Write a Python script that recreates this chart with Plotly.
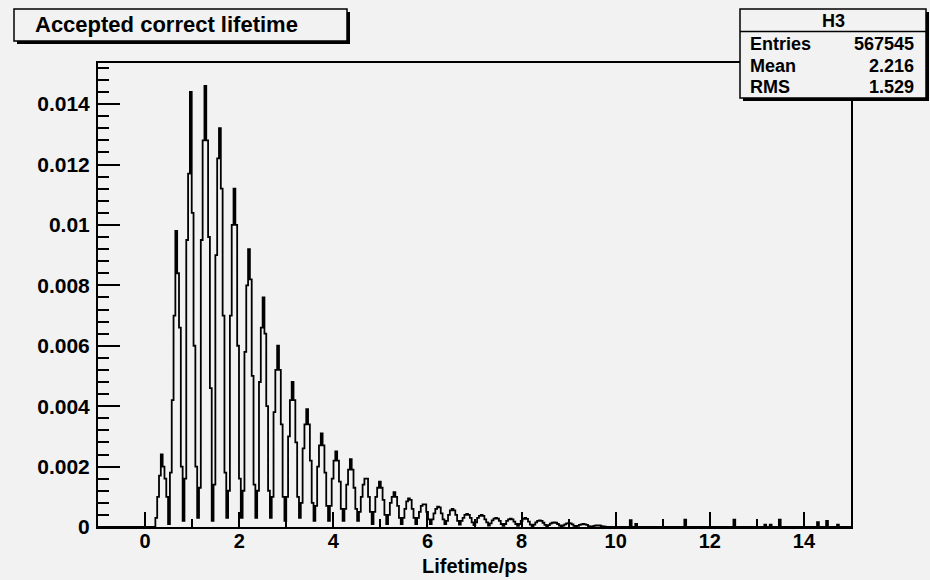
import plotly.graph_objects as go

# ---------------- data ----------------
HIST_NAME = "H3"
TITLE = "Accepted correct lifetime"
X_TITLE = "Lifetime/ps"
STAT_NAMES = ["Entries", "Mean", "RMS"]
STAT_VALUES = ["567545", "2.216", "1.529"]

BIN_WIDTH = 0.309 / 8          # ps
FIRST_EDGE = 0.219             # ps, first non-empty bin edge
X_MIN, X_MAX = -1.0, 15.0
Y_MAX = 0.01536
UNIT = 1e-4                    # bin contents below are in units of 1e-4

# bin contents, one row per "tooth" of the comb (8 bins each), in 1e-4
teeth = [
    [3, 10, 17, 24, 20, 16, 10, 1],
    [18, 42, 70, 98, 84, 66, 20, 2],
    [16, 95, 117, 144, 104, 60, 20, 3],
    [13, 95, 128, 146, 128, 96, 46, 2],
    [14, 90, 122, 132, 112, 70, 18, 3],
    [12, 70, 100, 112, 100, 60, 16, 3],
    [12, 58, 80, 92, 82, 50, 14, 3],
    [12, 48, 66, 76, 64, 40, 12, 3],
    [10, 38, 52, 60, 52, 34, 10, 2],
    [10, 30, 42, 48, 42, 28, 10, 3],
    [8, 26, 34, 39, 34, 22, 8, 2],
    [7, 20, 27, 31, 27, 18, 7, 2],
    [7, 16, 22, 25, 22, 15, 6, 2],
    [6, 14, 19, 22.5, 19, 13, 6, 2],
    [5, 10, 14, 16, 16, 10, 5, 1],
    [5, 10, 13, 15, 13, 9, 4, 1],
    [4, 8, 10, 11.5, 10, 7, 3, 1],
    [3, 6, 8.5, 9.5, 9, 6, 3, 1],
    [3, 5, 7, 7.5, 7.5, 5, 2.5, 1],
    [2.5, 4.5, 6, 6.7, 6.5, 4.5, 2.5, 1],
    [2, 4, 5.5, 6, 5.5, 4, 2, 0.8],
    [2, 3, 4, 4.3, 4, 3, 1.5, 0.6],
    [1.5, 3, 3.7, 4, 3.7, 2.5, 1.5, 0.5],
    [1.2, 2.2, 2.8, 3, 2.8, 2, 1, 0.4],
    [1, 2, 2.5, 2.8, 2.5, 1.8, 1, 0.4],
    [1, 2, 2.7, 3, 2.7, 1.8, 0.8, 0.3],
    [0.8, 1.5, 2, 2.2, 2, 1.4, 0.7, 0.3],
    [0.6, 1.1, 1.4, 1.5, 1.4, 1.0, 0.5, 0.2],
    [0.5, 0.9, 1.2, 1.3, 1.2, 0.9, 0.4, 0.2],
    [0.4, 0.7, 0.9, 1.0, 0.9, 0.7, 0.3, 0.1],
    [0.2, 0.4, 0.5, 0.5, 0.5, 0.3, 0.2, 0.1],
]

# isolated entries in the far tail (position in ps, content in 1e-4)
tail_spike_x = [10.31, 10.42, 11.48, 12.54, 13.17, 13.31, 13.49, 14.30, 14.51, 14.72]
tail_spike_val = [2.3, 1.0, 2.4, 2.4, 0.8, 0.8, 2.4, 1.6, 2.0, 0.8]

# ---------------- build histogram outline ----------------
values = [v * UNIT for tooth in teeth for v in tooth]
n_bins = int((X_MAX - FIRST_EDGE) // BIN_WIDTH)
values += [0.0] * (n_bins - len(values))
for sx, sv in zip(tail_spike_x, tail_spike_val):
    values[int((sx - FIRST_EDGE) // BIN_WIDTH)] = sv * UNIT
edges = [FIRST_EDGE + i * BIN_WIDTH for i in range(n_bins)]
xs = [X_MIN] + edges + [X_MAX]
ys = [0.0] + values + [0.0]

# ---------------- figure ----------------
W, H = 930, 580
L, R, T, B = 98, 851, 63, 527   # plot frame in pixels
BG = "#f2f2f2"
FONT = "Liberation Sans, Arial, Helvetica, sans-serif"


def px(x):
    return (x - L) / (R - L)


def py(y):
    return (B - y) / (B - T)


fig = go.Figure()
fig.add_trace(go.Scatter(x=xs, y=ys, mode="lines", line=dict(shape="hv", color="black", width=1.8),
                         hoverinfo="skip", showlegend=False))

shapes = []
annotations = []


def box(x0, y0, x1, y1, shadow=3):
    shapes.append(dict(type="rect", xref="paper", yref="paper", x0=px(x0 + shadow), x1=px(x1 + shadow),
                       y0=py(y1 + shadow), y1=py(y0 + shadow), fillcolor="black", line=dict(width=0),
                       layer="above"))
    shapes.append(dict(type="rect", xref="paper", yref="paper", x0=px(x0), x1=px(x1),
                       y0=py(y1), y1=py(y0), fillcolor=BG, line=dict(color="black", width=1.5),
                       layer="above"))


# title box
box(14, 9, 347, 41)
annotations.append(dict(text=TITLE, x=px(33), y=py(24.5), xref="paper", yref="paper", xanchor="left",
                        yanchor="middle", showarrow=False,
                        font=dict(family=FONT, size=22, color="black", weight="bold")))

# stats box
box(740, 9, 926, 98)
shapes.append(dict(type="line", xref="paper", yref="paper", x0=px(740), x1=px(926), y0=py(31.5), y1=py(31.5),
                   line=dict(color="black", width=1.5), layer="above"))
annotations.append(dict(text=HIST_NAME, x=px(833), y=py(20.5), xref="paper", yref="paper", xanchor="center",
                        yanchor="middle", showarrow=False,
                        font=dict(family=FONT, size=18, color="black", weight="bold")))
for i, (nm, val) in enumerate(zip(STAT_NAMES, STAT_VALUES)):
    yy = 44 + i * 21.5
    annotations.append(dict(text=nm, x=px(748), y=py(yy), xref="paper", yref="paper", xanchor="left",
                            yanchor="middle", showarrow=False,
                            font=dict(family=FONT, size=18, color="black", weight="bold")))
    annotations.append(dict(text=val, x=px(916), y=py(yy), xref="paper", yref="paper", xanchor="right",
                            yanchor="middle", showarrow=False,
                            font=dict(family=FONT, size=18, color="black", weight="bold")))

# x-axis title
annotations.append(dict(text=X_TITLE, x=0.5, y=py(566), xref="paper", yref="paper", xanchor="center",
                        yanchor="middle", showarrow=False,
                        font=dict(family=FONT, size=20, color="black", weight="bold")))

fig.update_layout(
    width=W, height=H, autosize=False,
    margin=dict(l=L, r=W - R, t=T, b=H - B, pad=0),
    paper_bgcolor=BG, plot_bgcolor=BG,
    shapes=shapes, annotations=annotations,
    font=dict(family=FONT, color="black"),
)
fig.update_xaxes(range=[X_MIN, X_MAX], tick0=0, dtick=2, ticks="inside", ticklen=15, tickwidth=1.5,
                 tickcolor="black", showgrid=False, zeroline=False, showline=True, linecolor="black",
                 linewidth=2, mirror=True, ticklabelstandoff=-5,
                 tickfont=dict(family=FONT, size=20, color="black", weight="bold"),
                 minor=dict(dtick=1, tick0=0, ticks="inside", ticklen=8, tickwidth=1.5, tickcolor="black",
                            showgrid=False))
fig.update_yaxes(range=[0, Y_MAX], tick0=0, dtick=0.002, ticks="inside", ticklen=22, tickwidth=1.5,
                 tickcolor="black", showgrid=False, zeroline=False, showline=True, linecolor="black",
                 linewidth=2, mirror=True, ticklabelstandoff=2,
                 tickfont=dict(family=FONT, size=21, color="black", weight="bold"),
                 minor=dict(dtick=0.0004, tick0=0, ticks="inside", ticklen=11, tickwidth=1.5,
                            tickcolor="black", showgrid=False))

fig.write_html("out.html")
